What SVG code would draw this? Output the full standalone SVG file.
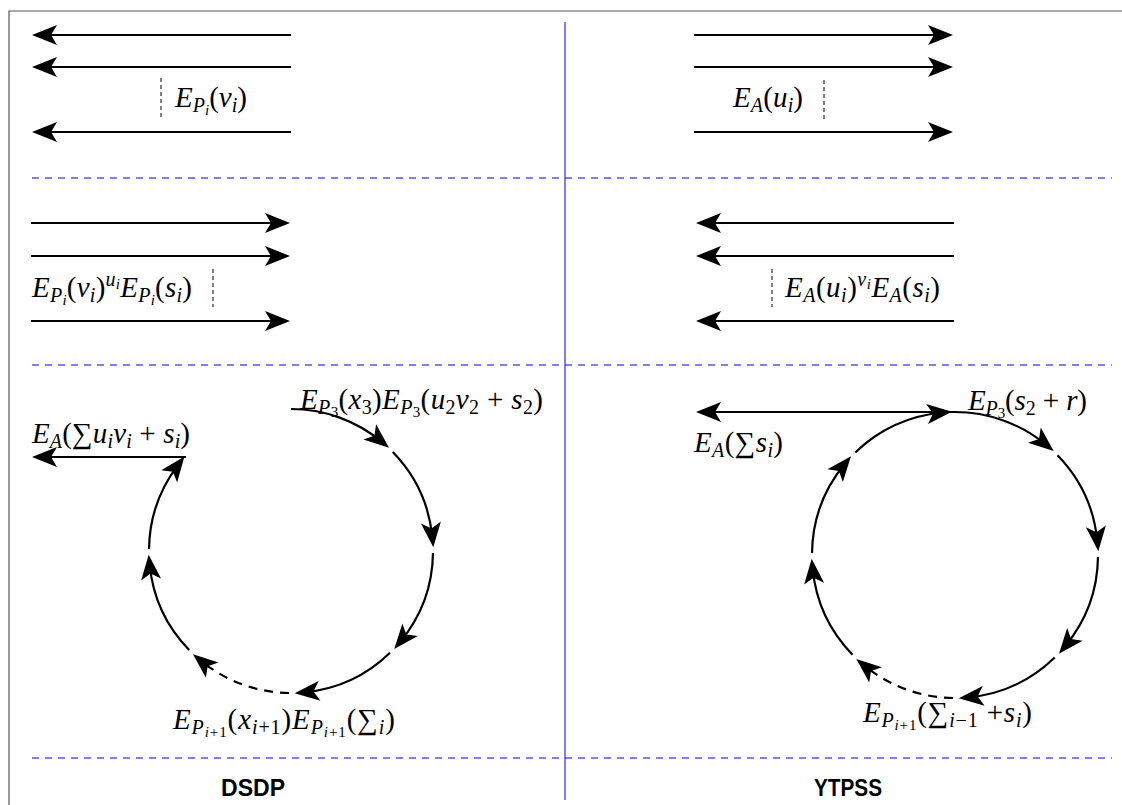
<svg xmlns="http://www.w3.org/2000/svg" width="1122" height="805" viewBox="0 0 1122 805">
<style>
.m{font-family:"Liberation Serif","Times New Roman",serif;font-style:italic;font-size:29px;fill:#000}
.u{font-style:normal}
.s{font-size:20px}
.ss{font-size:15px}
.su{font-size:20px;font-style:normal}
.ssu{font-size:15px;font-style:normal}
.title{font-family:"Liberation Sans",Arial,sans-serif;font-weight:bold;font-size:24px;fill:#000;text-anchor:middle}
.c{fill:none;stroke:#000;stroke-width:2.2;marker-end:url(#ah)}
.d{stroke-dasharray:9 7}
.tick{stroke:#000;stroke-width:1;stroke-dasharray:4 3}
.sep{stroke:#0000ff;stroke-width:1;stroke-dasharray:7 6;fill:none}
</style>
<defs>
<marker id="ah" markerUnits="userSpaceOnUse" markerWidth="40" markerHeight="40" refX="0" refY="0" orient="auto" overflow="visible" style="overflow:visible"><path d="M10,0 L-15,-10 L-9,0 L-15,10 Z" fill="#000"/></marker>
</defs>
<rect width="1122" height="805" fill="#fff"/>
<g id="frame">
<path d="M9,805 V11 H1122" fill="none" stroke="#555" stroke-width="1.2"/>
<line x1="565" y1="22" x2="565" y2="800" stroke="#0000ff" stroke-width="1"/>
<line class="sep" x1="32" y1="178" x2="1112" y2="178"/>
<line class="sep" x1="32" y1="365" x2="1112" y2="365"/>
<line class="sep" x1="32" y1="758" x2="1112" y2="758"/>
</g>
<g id="connectors">
<line class="c" x1="291" y1="35" x2="42" y2="35"/>
<line class="c" x1="291" y1="67" x2="42" y2="67"/>
<line class="c" x1="291" y1="132" x2="42" y2="132"/>
<line class="c" x1="694" y1="35" x2="943" y2="35"/>
<line class="c" x1="694" y1="67" x2="943" y2="67"/>
<line class="c" x1="694" y1="132" x2="943" y2="132"/>
<line class="c" x1="31" y1="223" x2="280" y2="223"/>
<line class="c" x1="31" y1="256" x2="280" y2="256"/>
<line class="c" x1="31" y1="321" x2="280" y2="321"/>
<line class="c" x1="954" y1="223" x2="706" y2="223"/>
<line class="c" x1="954" y1="256" x2="706" y2="256"/>
<line class="c" x1="954" y1="321" x2="706" y2="321"/>
<line class="tick" x1="161" y1="78" x2="161" y2="117"/>
<line class="tick" x1="824" y1="80" x2="824" y2="119"/>
<line class="tick" x1="213" y1="269" x2="213" y2="307"/>
<line class="tick" x1="772" y1="269" x2="772" y2="307"/>
<path class="c" d="M291,409 A142,142 0 0 1 381.33,441.43"/>
<path class="c" d="M392.80,452.00 A142,142 0 0 1 432.35,537.40"/>
<path class="c" d="M432.99,552.98 A142,142 0 0 1 400.57,641.33"/>
<path class="c" d="M390.00,652.80 A142,142 0 0 1 304.60,692.35"/>
<path class="c d" d="M289.02,692.99 A142,142 0 0 1 200.67,660.57"/>
<path class="c" d="M189.20,650.00 A142,142 0 0 1 149.65,564.60"/>
<path class="c" d="M149.01,549.02 A142,142 0 0 1 178.34,464.55"/>
<line class="c" x1="186" y1="457" x2="42" y2="457"/>
<path class="c" d="M955,412 A143,143 0 0 1 1045.96,444.66"/>
<path class="c" d="M1057.52,455.30 A143,143 0 0 1 1097.34,541.30"/>
<path class="c" d="M1097.99,557.00 A143,143 0 0 1 1065.34,645.96"/>
<path class="c" d="M1054.70,657.52 A143,143 0 0 1 968.70,697.34"/>
<path class="c d" d="M953.00,697.99 A143,143 0 0 1 864.04,665.34"/>
<path class="c" d="M852.48,654.70 A143,143 0 0 1 812.66,568.70"/>
<path class="c" d="M812.01,553.00 A143,143 0 0 1 844.66,464.04"/>
<path class="c" d="M855.30,452.48 A143,143 0 0 1 942.04,412.59"/>
<line class="c" x1="955" y1="412" x2="706" y2="412"/>
</g>
<g id="label-top-left"><text class="m" x="175" y="107" textLength="72" lengthAdjust="spacing">E<tspan class="s" dy="5">P</tspan><tspan class="ss" dy="3">i</tspan><tspan class="u" dy="-8">(</tspan>v<tspan class="s" dy="5">i</tspan><tspan class="u" dy="-5">)</tspan></text></g>
<g id="label-top-right"><text class="m" x="733" y="107" textLength="70" lengthAdjust="spacing">E<tspan class="s" dy="5">A</tspan><tspan class="u" dy="-5">(</tspan>u<tspan class="s" dy="5">i</tspan><tspan class="u" dy="-5">)</tspan></text></g>
<g id="label-mid-left"><text class="m" x="32" y="297" textLength="160" lengthAdjust="spacing">E<tspan class="s" dy="5">P</tspan><tspan class="ss" dy="3">i</tspan><tspan class="u" dy="-8">(</tspan>v<tspan class="s" dy="5">i</tspan><tspan class="u" dy="-5">)</tspan><tspan class="s" dy="-11">u</tspan><tspan class="ss" dy="3">i</tspan><tspan dy="8">E</tspan><tspan class="s" dy="5">P</tspan><tspan class="ss" dy="3">i</tspan><tspan class="u" dy="-8">(</tspan>s<tspan class="s" dy="5">i</tspan><tspan class="u" dy="-5">)</tspan></text></g>
<g id="label-mid-right"><text class="m" x="785" y="297" textLength="155" lengthAdjust="spacing">E<tspan class="s" dy="5">A</tspan><tspan class="u" dy="-5">(</tspan>u<tspan class="s" dy="5">i</tspan><tspan class="u" dy="-5">)</tspan><tspan class="s" dy="-11">v</tspan><tspan class="ss" dy="3">i</tspan><tspan dy="8">E</tspan><tspan class="s" dy="5">A</tspan><tspan class="u" dy="-5">(</tspan>s<tspan class="s" dy="5">i</tspan><tspan class="u" dy="-5">)</tspan></text></g>
<g id="label-dsdp-p3"><text class="m" x="300" y="409" textLength="243" lengthAdjust="spacing">E<tspan class="s" dy="5">P</tspan><tspan class="ssu" dy="3">3</tspan><tspan class="u" dy="-8">(</tspan>x<tspan class="su" dy="5">3</tspan><tspan class="u" dy="-5">)</tspan>E<tspan class="s" dy="5">P</tspan><tspan class="ssu" dy="3">3</tspan><tspan class="u" dy="-8">(</tspan>u<tspan class="su" dy="5">2</tspan><tspan dy="-5">v</tspan><tspan class="su" dy="5">2</tspan><tspan class="u" dy="-5"> + </tspan>s<tspan class="su" dy="5">2</tspan><tspan class="u" dy="-5">)</tspan></text></g>
<g id="label-dsdp-a"><text class="m" x="32" y="443" textLength="158" lengthAdjust="spacing">E<tspan class="s" dy="5">A</tspan><tspan class="u" dy="-5">(∑</tspan>u<tspan class="s" dy="5">i</tspan><tspan dy="-5">v</tspan><tspan class="s" dy="5">i</tspan><tspan class="u" dy="-5"> + </tspan>s<tspan class="s" dy="5">i</tspan><tspan class="u" dy="-5">)</tspan></text></g>
<g id="label-dsdp-pi1"><text class="m" x="173" y="729" textLength="222" lengthAdjust="spacing">E<tspan class="s" dy="5">P</tspan><tspan class="ss" dy="3">i</tspan><tspan class="ssu">+1</tspan><tspan class="u" dy="-8">(</tspan>x<tspan class="s" dy="5">i</tspan><tspan class="su">+1</tspan><tspan class="u" dy="-5">)</tspan>E<tspan class="s" dy="5">P</tspan><tspan class="ss" dy="3">i</tspan><tspan class="ssu">+1</tspan><tspan class="u" dy="-8">(∑</tspan><tspan class="s" dy="5">i</tspan><tspan class="u" dy="-5">)</tspan></text></g>
<g id="label-ytpss-p3"><text class="m" x="968" y="410" textLength="119" lengthAdjust="spacing">E<tspan class="s" dy="5">P</tspan><tspan class="ssu" dy="3">3</tspan><tspan class="u" dy="-8">(</tspan>s<tspan class="su" dy="5">2</tspan><tspan class="u" dy="-5"> + </tspan>r<tspan class="u">)</tspan></text></g>
<g id="label-ytpss-a"><text class="m" x="694" y="452" textLength="89" lengthAdjust="spacing">E<tspan class="s" dy="5">A</tspan><tspan class="u" dy="-5">(∑</tspan>s<tspan class="s" dy="5">i</tspan><tspan class="u" dy="-5">)</tspan></text></g>
<g id="label-ytpss-pi1"><text class="m" x="863" y="722" textLength="169" lengthAdjust="spacing">E<tspan class="s" dy="5">P</tspan><tspan class="ss" dy="3">i</tspan><tspan class="ssu">+1</tspan><tspan class="u" dy="-8">(∑</tspan><tspan class="s" dy="5">i</tspan><tspan class="su">−1</tspan><tspan class="u" dy="-5"> +</tspan>s<tspan class="s" dy="5">i</tspan><tspan class="u" dy="-5">)</tspan></text></g>
<g id="title-dsdp"><text class="title" x="253" y="796" textLength="64" lengthAdjust="spacingAndGlyphs">DSDP</text></g>
<g id="title-ytpss"><text class="title" x="848" y="796" textLength="68" lengthAdjust="spacingAndGlyphs">YTPSS</text></g>
</svg>
